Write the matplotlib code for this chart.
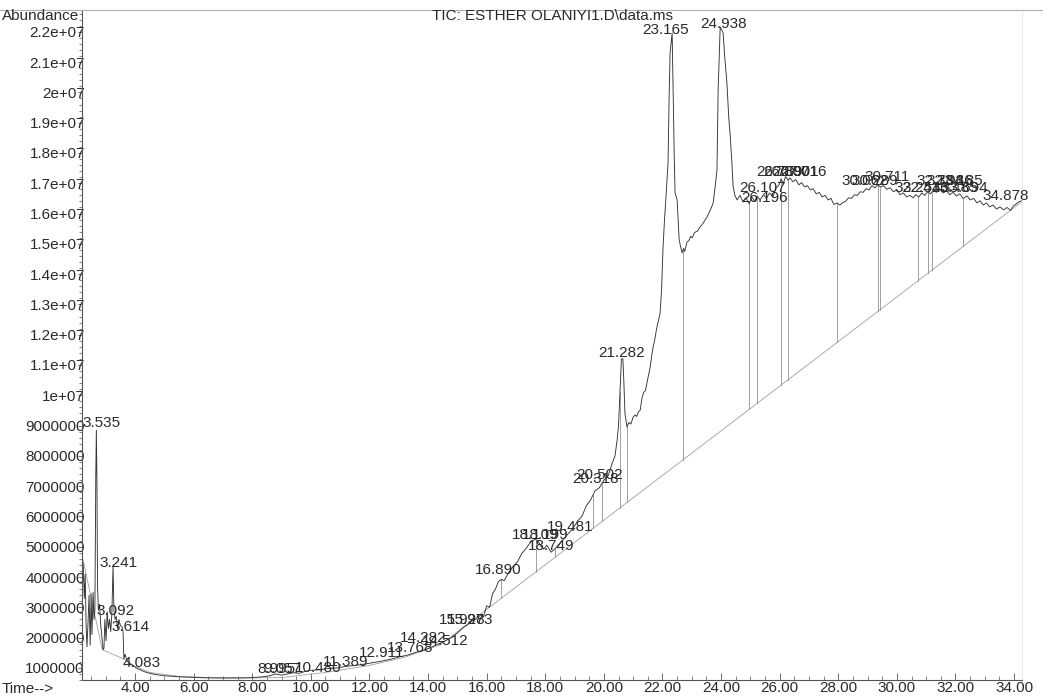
import numpy as np
import matplotlib
matplotlib.use('Agg')
import matplotlib.pyplot as plt
from matplotlib.lines import Line2D
from matplotlib.ticker import MultipleLocator, FuncFormatter

plt.rcParams['font.family'] = ['Liberation Sans', 'DejaVu Sans']

# TIC trace, abundance in millions, split by region of the run
t_solvent = [2.23, 2.27, 2.30, 2.33, 2.36, 2.40, 2.43, 2.47, 2.50, 2.53,
             2.57, 2.60, 2.63, 2.66, 2.68, 2.70, 2.72, 2.75, 2.79, 2.83,
             2.87, 2.91, 2.94, 2.97, 3.01, 3.05, 3.09, 3.13, 3.17, 3.21,
             3.25, 3.28, 3.32, 3.36, 3.40, 3.45, 3.50, 3.56, 3.59, 3.62,
             3.66, 3.72, 3.80, 3.90, 4.00, 4.15, 4.30, 4.50]
a_solvent = [4.45, 3.30, 4.10, 2.40, 1.70, 2.60, 3.40, 1.75, 3.45, 2.10,
             3.50, 2.60, 2.90, 7.30, 8.85, 7.10, 3.70, 2.90, 3.10, 2.40,
             2.00, 1.60, 1.65, 2.60, 1.90, 2.85, 2.30, 2.60, 2.20, 2.80,
             4.40, 2.90, 2.60, 2.70, 2.30, 2.60, 2.40, 2.35, 2.20, 1.30,
             1.45, 1.25, 1.15, 1.10, 1.02, 0.95, 0.88, 0.82]

t_low = [4.7, 5.0, 5.3, 5.6, 5.9, 6.2, 6.5, 6.8, 7.1, 7.4, 7.7, 8.0, 8.3, 8.6,
         8.8, 9.0, 9.2, 9.4, 9.6, 9.8, 10.0,
         10.3, 10.6, 10.9, 11.2, 11.5, 11.8, 12.1, 12.4, 12.7, 13.0, 13.3,
         13.6, 13.9, 14.2, 14.5, 14.8]
a_low = [0.78, 0.74, 0.72, 0.70, 0.69, 0.68, 0.67, 0.67, 0.67, 0.67, 0.67, 0.68, 0.70, 0.74,
         0.80, 0.76, 0.80, 0.84, 0.82, 0.88, 0.92,
         0.94, 0.98, 1.00, 1.05, 1.08, 1.12, 1.17, 1.22, 1.28, 1.36, 1.42,
         1.52, 1.60, 1.72, 1.85, 2.00]

t_rise = [15.0, 15.2, 15.35, 15.5, 15.65, 15.8, 15.9, 16.0, 16.1, 16.2,
          16.3, 16.4, 16.5, 16.6, 16.75, 16.9, 17.05, 17.2, 17.35, 17.5,
          17.65, 17.75, 17.85, 17.95, 18.05, 18.2, 18.35, 18.5, 18.65, 18.8,
          18.95, 19.1, 19.25, 19.4, 19.55, 19.7, 19.85, 20.0, 20.15, 20.28,
          20.38, 20.45]
a_rise = [2.15, 2.33, 2.42, 2.55, 2.62, 2.75, 2.70, 3.05, 3.00, 3.45,
          3.60, 3.85, 3.92, 3.88, 4.15, 4.35, 4.50, 4.78, 4.95, 5.15,
          5.25, 5.20, 5.02, 4.92, 5.05, 4.82, 4.95, 5.12, 5.28, 5.45,
          5.60, 5.85, 6.00, 6.35, 6.55, 6.85, 6.95, 7.20, 7.35, 7.75,
          8.00, 8.50]

t_main = [20.50, 20.55, 20.60, 20.65, 20.68, 20.72, 20.79, 20.85, 20.92, 21.00,
          21.07, 21.12, 21.18, 21.24, 21.30, 21.36, 21.42, 21.47, 21.53, 21.58,
          21.63, 21.68, 21.74, 21.80, 21.86, 21.92, 21.97, 22.02, 22.07, 22.12,
          22.19, 22.23, 22.26, 22.33, 22.36, 22.40, 22.43, 22.50, 22.57, 22.62,
          22.67, 22.72, 22.76, 22.84, 22.90, 22.96, 23.02, 23.08, 23.14, 23.20,
          23.27, 23.34, 23.40, 23.46, 23.52, 23.60, 23.67, 23.73, 23.80, 23.86,
          23.90, 23.97, 24.03, 24.07, 24.13, 24.20, 24.26, 24.31, 24.37, 24.41,
          24.47]
a_main = [9.00, 10.10, 11.20, 11.20, 10.50, 9.40, 8.95, 9.10, 9.05, 9.28,
          9.35, 9.30, 9.45, 9.51, 9.90, 10.10, 10.15, 10.41, 10.70, 10.93,
          11.30, 11.59, 11.85, 12.20, 12.45, 12.72, 13.50, 14.89, 15.80, 16.54,
          17.67, 20.00, 21.30, 21.96, 20.31, 18.00, 16.68, 16.45, 15.13, 14.90,
          14.70, 14.85, 14.75, 15.06, 15.10, 15.25, 15.20, 15.35, 15.40, 15.42,
          15.55, 15.62, 15.70, 15.80, 15.88, 16.05, 16.20, 16.35, 16.90, 17.44,
          20.08, 22.16, 22.05, 21.96, 21.10, 20.31, 19.20, 18.60, 17.67, 16.90,
          16.60]

t_tail = [24.55, 24.65, 24.75, 24.85, 24.96, 25.05, 25.15, 25.23, 25.33, 25.45,
          25.55, 25.65, 25.77, 25.88, 25.98, 26.05, 26.12, 26.20, 26.29, 26.35,
          26.45, 26.55, 26.65, 26.75, 26.85, 26.95, 27.05, 27.14, 27.25, 27.35,
          27.45, 27.55, 27.65, 27.75, 27.85, 27.96, 28.05, 28.15, 28.25, 28.35,
          28.45, 28.55, 28.65, 28.75, 28.85, 28.95, 29.05, 29.15, 29.25, 29.35,
          29.43, 29.55, 29.65, 29.77, 29.88, 30.00, 30.11, 30.22, 30.33, 30.45,
          30.55, 30.65, 30.75, 30.85, 30.95, 31.05, 31.15, 31.25, 31.35, 31.47,
          31.58, 31.70, 31.80, 31.92, 32.03, 32.15, 32.26, 32.40, 32.50, 32.62,
          32.73, 32.84, 32.95, 33.06, 33.17, 33.28, 33.40, 33.52, 33.64, 33.76,
          33.88, 33.97, 34.05, 34.15, 34.25]
a_tail = [16.45, 16.60, 16.38, 16.52, 16.32, 16.55, 16.40, 16.58, 16.45, 16.62,
          16.50, 16.68, 16.55, 16.85, 16.95, 17.15, 16.98, 17.22, 17.10, 17.18,
          17.05, 17.12, 16.95, 17.02, 16.88, 16.92, 16.78, 16.82, 16.65, 16.70,
          16.55, 16.60, 16.45, 16.50, 16.30, 16.35, 16.28, 16.36, 16.40, 16.52,
          16.50, 16.62, 16.60, 16.72, 16.70, 16.82, 16.78, 16.92, 16.85, 16.95,
          16.88, 16.92, 16.80, 16.85, 16.72, 16.78, 16.62, 16.68, 16.55, 16.60,
          16.52, 16.62, 16.55, 16.68, 16.60, 16.72, 16.65, 16.78, 16.70, 16.80,
          16.68, 16.75, 16.62, 16.70, 16.58, 16.65, 16.50, 16.58, 16.45, 16.50,
          16.35, 16.42, 16.28, 16.35, 16.22, 16.28, 16.15, 16.22, 16.12, 16.20,
          16.10, 16.25, 16.30, 16.38, 16.42]

# integration baseline and peak boundary markers
base_t = [2.22, 2.88, 3.6, 4.0, 4.5, 5.5, 7.0, 9.0, 10.5, 12.0, 13.2, 14.41, 34.25]
base_a = [4.6, 1.6, 1.3, 1.05, 0.85, 0.72, 0.66, 0.68, 0.85, 1.08, 1.35, 1.76, 16.38]
drop_t = [16.49, 17.69, 18.34, 19.63, 19.94, 20.55, 20.79, 22.70, 24.96, 25.23,
          26.05, 26.29, 27.96, 29.36, 29.43, 30.72, 31.06, 31.20, 32.26]

# retention time labels
peak_text = ["3.092", "3.241", "3.535", "3.614", "4.083", "8.995", "9.057",
             "10.480", "11.389", "12.911", "13.768", "14.282", "14.512",
             "15.928", "15.973", "16.890", "18.109", "18.199", "18.749",
             "19.481", "20.318", "20.502", "21.282", "23.165", "24.938",
             "26.107", "26.196", "26.739", "26.807", "26.901", "27.016",
             "30.062", "30.289", "30.711", "32.254", "32.416", "32.784",
             "32.986", "33.185", "33.485", "33.694", "34.878"]
label_t = [3.32, 3.42, 2.84, 3.83, 4.24, 8.81, 9.02, 10.25, 11.17, 12.40,
           13.39, 13.83, 14.58, 15.16, 15.43, 16.39, 17.65, 17.99, 18.20,
           18.85, 19.73, 19.87, 20.62, 22.09, 24.07, 25.43, 25.50, 26.01,
           26.25, 26.53, 26.80, 28.92, 29.26, 29.67, 30.72, 31.00, 31.47,
           31.82, 32.16, 31.99, 32.33, 33.73]
label_a = [2.88, 4.47, 9.09, 2.35, 1.17, 0.97, 0.97, 1.00, 1.20, 1.50,
           1.66, 1.99, 1.89, 2.58, 2.58, 4.23, 5.39, 5.39, 5.03,
           5.65, 7.24, 7.37, 11.40, 22.06, 22.25, 16.84, 16.51, 17.37,
           17.37, 17.37, 17.37, 17.07, 17.07, 17.20, 16.84, 16.84, 17.07,
           17.07, 17.07, 16.84, 16.84, 16.58]

time = np.array(t_solvent + t_low + t_rise + t_main + t_tail)
abund = np.array(a_solvent + a_low + a_rise + a_main + a_tail) * 1e6
base_time = np.array(base_t)
base_abund = np.array(base_a) * 1e6

ink = '#2a2a2a'
fsize = 11
fig = plt.figure(figsize=(10.43, 6.96), dpi=100)
ax = fig.add_axes([82 / 1043, 16 / 696, (1022 - 82) / 1043, 670 / 696])

ax.plot(base_time, base_abund, color='#a0a0a0', lw=0.6)
for t in drop_t:
    top = np.interp(t, time, abund)
    bottom = np.interp(t, base_time, base_abund)
    ax.plot([t, t], [bottom, top], color='#909090', lw=0.6)
ax.plot(time, abund, color='#333333', lw=0.65)

for txt, x, y in zip(peak_text, label_t, label_a):
    ax.text(x, y * 1e6, txt, ha='center', va='center', fontsize=fsize, color=ink)

ax.set_xlim(2.19, 34.27)
ax.set_ylim(0.6e6, 22.72e6)

ax.xaxis.set_minor_locator(MultipleLocator(0.5))
ax.set_xticks(np.arange(4, 35, 2))
ax.xaxis.set_major_formatter(FuncFormatter(lambda v, p: f"{v:.2f}"))
ax.yaxis.set_minor_locator(MultipleLocator(2e5))
ax.set_yticks(np.arange(1e6, 2.25e7, 1e6))
ax.yaxis.set_major_formatter(FuncFormatter(
    lambda v, p: f"{int(round(v))}" if v < 1e7 else f"{v:g}"))

ax.tick_params(axis='x', which='major', direction='in', length=5, width=0.6,
               pad=1, labelsize=fsize, colors='#555555', labelcolor=ink)
ax.tick_params(axis='x', which='minor', direction='in', length=3, width=0.5,
               colors='#555555')
ax.tick_params(axis='y', which='major', direction='out', length=3, width=0.6,
               pad=-5, labelsize=fsize, colors='#555555', labelcolor=ink)
ax.tick_params(axis='y', which='minor', direction='out', length=2, width=0.5,
               colors='#555555')

ax.spines['top'].set_visible(False)
ax.spines['right'].set_color('#e4e4e4')
ax.spines['right'].set_linewidth(0.6)
for side in ('left', 'bottom'):
    ax.spines[side].set_color('#555555')
    ax.spines[side].set_linewidth(0.8)

fig.add_artist(Line2D([0, 1], [1 - 10 / 696, 1 - 10 / 696],
                      transform=fig.transFigure, color='#b0b0b0', lw=0.8))
fig.text(2 / 1043, 1 - 16 / 696, "Abundance", ha='left', va='center',
         fontsize=fsize, color=ink)
fig.text(553 / 1043, 1 - 16 / 696, "TIC: ESTHER OLANIYI1.D\\data.ms",
         ha='center', va='center', fontsize=fsize, color=ink)
fig.text(2 / 1043, 1 - 689 / 696, "Time-->", ha='left', va='center',
         fontsize=fsize, color=ink)

fig.savefig('out.png', dpi=100)
